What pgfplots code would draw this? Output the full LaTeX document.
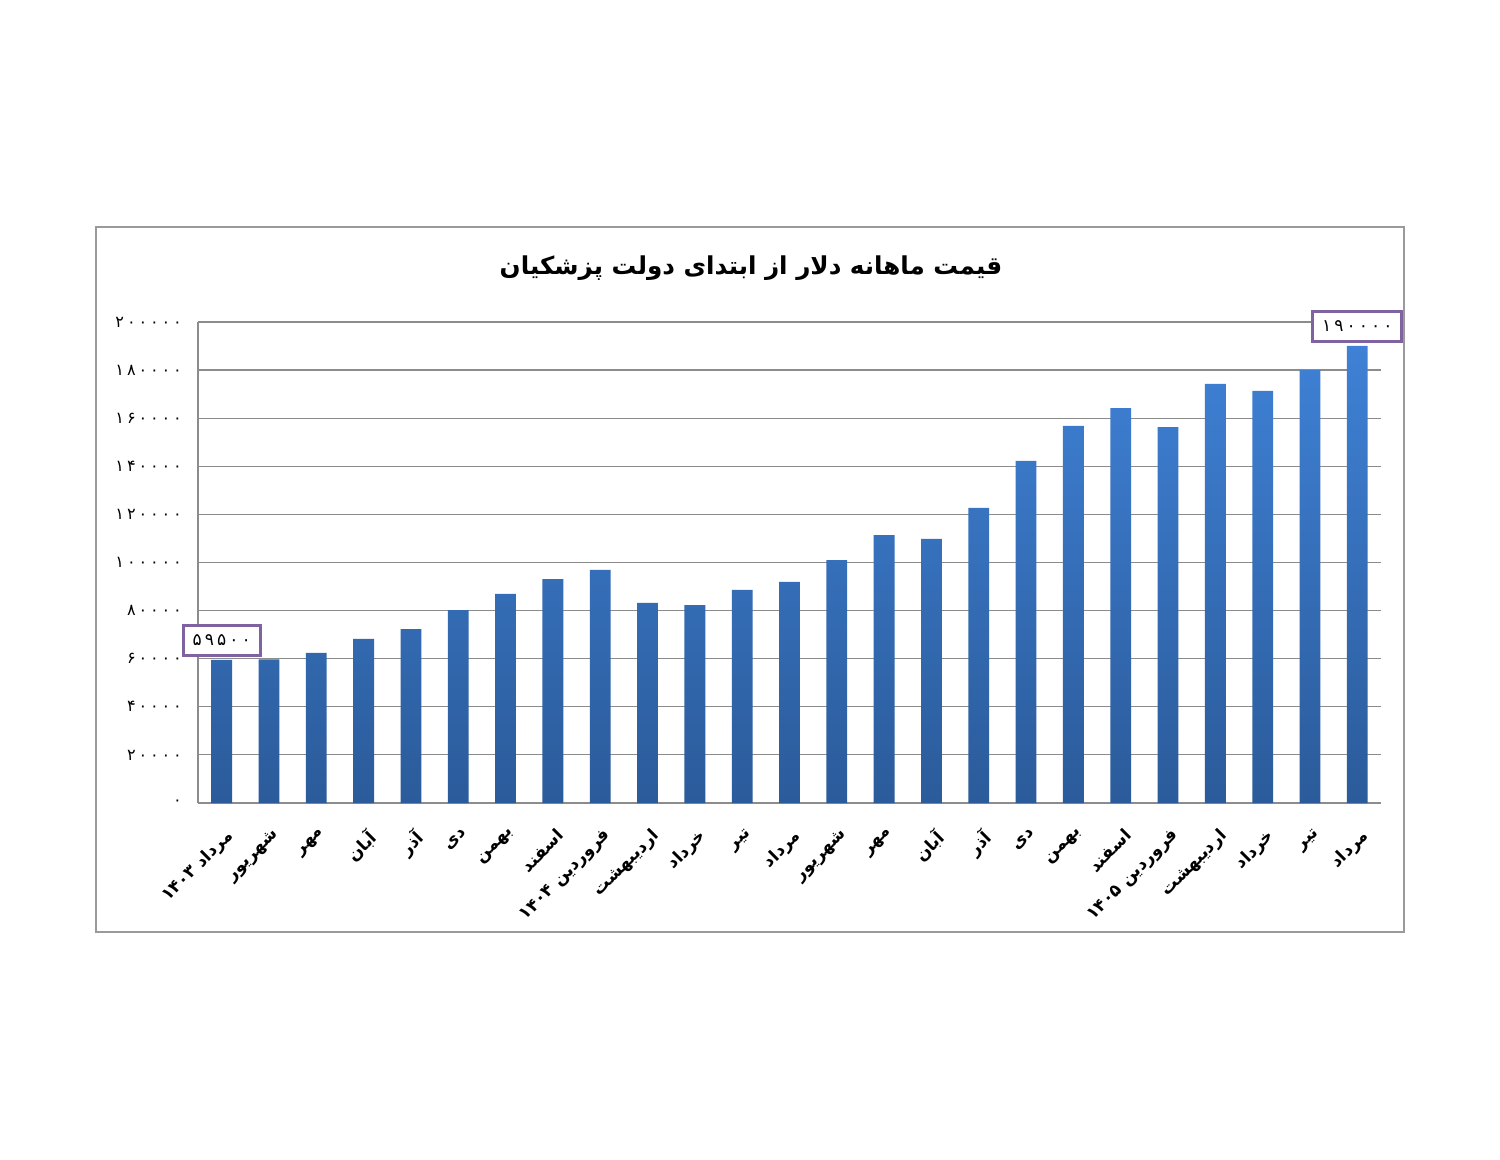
\documentclass[border=0pt]{standalone}
\usepackage{fontspec}
\usepackage{pgfplots}
\pgfplotsset{compat=1.18}
\TeXXeTstate=1
\newfontfamily\fa[Script=Arabic]{DejaVu Sans}
\newfontfamily\fadig[Script=Arabic,LetterSpace=18]{DejaVu Sans}
\definecolor{gridc}{HTML}{8C8C8C}
\definecolor{framec}{HTML}{9A9A9A}
\definecolor{bartop}{HTML}{3F81D6}
\definecolor{barbot}{HTML}{2B5B9A}
\definecolor{boxc}{HTML}{7F63A1}
\begin{document}
\begin{tikzpicture}[x=0.528pt,y=0.528pt]
\path[use as bounding box, fill=white] (0,0) rectangle (1500,1159);
\draw[framec, line width=1.1pt] (96,227) rectangle (1404,932);
\node[font=\fa\bfseries\fontsize{13}{16}\selectfont] at (751,891) {\beginR قیمت ماهانه دلار از ابتدای دولت پزشکیان\endR};
\coordinate (PA) at (198,356);
\begin{axis}[
  at={(PA)}, anchor=south west,
  scale only axis, width=624.6pt, height=254pt,
  xmin=-0.5, xmax=24.5, ymin=0, ymax=200000,
  scaled y ticks=false,
  axis line style={gridc, line width=0.6pt},
  axis x line*=bottom, axis y line*=left,
  ymajorgrids, major grid style={gridc, line width=0.6pt},
  major tick length=0pt,
  ytick={0,20000,40000,60000,80000,100000,120000,140000,160000,180000,200000},
  yticklabels={۰,۲۰۰۰۰,۴۰۰۰۰,۶۰۰۰۰,۸۰۰۰۰,۱۰۰۰۰۰,۱۲۰۰۰۰,۱۴۰۰۰۰,۱۶۰۰۰۰,۱۸۰۰۰۰,۲۰۰۰۰۰},
  yticklabel style={font=\fadig\fontsize{8.5}{10}\selectfont, xshift=-5pt},
  xtick={0,...,24},
  xticklabels={
    {\beginR مرداد \beginL۱۴۰۳\endL\endR},
    {\beginR شهریور\endR},
    {\beginR مهر\endR},
    {\beginR آبان\endR},
    {\beginR آذر\endR},
    {\beginR دی\endR},
    {\beginR بهمن\endR},
    {\beginR اسفند\endR},
    {\beginR فروردین \beginL۱۴۰۴\endL\endR},
    {\beginR اردیبهشت\endR},
    {\beginR خرداد\endR},
    {\beginR تیر\endR},
    {\beginR مرداد\endR},
    {\beginR شهریور\endR},
    {\beginR مهر\endR},
    {\beginR آبان\endR},
    {\beginR آذر\endR},
    {\beginR دی\endR},
    {\beginR بهمن\endR},
    {\beginR اسفند\endR},
    {\beginR فروردین \beginL۱۴۰۵\endL\endR},
    {\beginR اردیبهشت\endR},
    {\beginR خرداد\endR},
    {\beginR تیر\endR},
    {\beginR مرداد\endR}},
  xticklabel style={font=\fa\bfseries\fontsize{9}{10}\selectfont, rotate=45, anchor=north east, inner sep=0pt, yshift=-10pt, xshift=-8pt},
  clip=false,
]
\addplot[ybar, bar width=11pt, draw=none, shading=axis, top color=bartop, bottom color=barbot] coordinates {
(0,59500) (1,59700) (2,62400) (3,68200) (4,72300) (5,80200) (6,86900) (7,93100) (8,96900) (9,83200)
(10,82300) (11,88600) (12,91900) (13,101000) (14,111400) (15,109800) (16,122700) (17,142200) (18,156800) (19,164200)
(20,156300) (21,174200) (22,171300) (23,180000) (24,190000)};
\addplot[draw=none, mark=none, nodes near coords, point meta=explicit symbolic,
  nodes near coords style={anchor=south, yshift=1.5pt, draw=boxc, line width=1.6pt, fill=white, font=\fadig\fontsize{9}{10}\selectfont, inner xsep=5pt, minimum height=16pt}]
 coordinates {(0,59500)[۵۹۵۰۰] (24,190000)[۱۹۰۰۰۰]};
\end{axis}
\end{tikzpicture}
\end{document}
